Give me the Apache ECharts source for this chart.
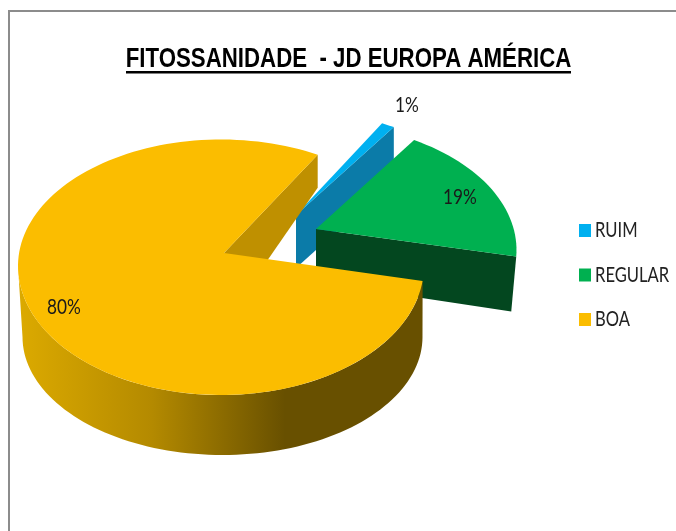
<!DOCTYPE html>
<html><head><meta charset="utf-8">
<style>html,body{margin:0;padding:0;background:#fff}#c{width:676px;height:531px}</style>
<script src="https://cdn.jsdelivr.net/npm/echarts@6/dist/echarts.min.js"></script>
</head><body><div id="c"></div>
<script>
const titleText = 'FITOSSANIDADE  - JD EUROPA AMÉRICA';
const categories = ['RUIM', 'REGULAR', 'BOA'];
const values = [1, 19, 80];
const labels = ['1%', '19%', '80%'];
const topColors = ['#00b0f0', '#00b050', '#fbbd00'];

// Projection of each exploded slice onto the tilted page
const views = [
  {ax:296,ay:215,cx:296,cy:237,rx:200,ry:126,ryFar:126,start:295.5,scale:1.05,liftFar:53,liftNear:53,dropX:0,lx:407,ly:105,face:'#0b7ba8'},
  {ax:316,ay:229,cx:316,cy:250,rx:200.5,ry:126,ryFar:126,start:299.3,scale:0.93,liftFar:55,liftNear:53,dropX:5,lx:460,ly:197,face:'#03471f'},
  {ax:224,ay:253,cx:221,cy:266,rx:203,ry:129,ryFar:126.5,start:6.7,scale:1.013,liftFar:33,liftNear:70,dropX:0,lx:64,ly:307,face:'#bf9000'}
];
const rad = d => d * Math.PI / 180;
function arc(v, a, b) {
  const pts = [], n = Math.max(2, Math.ceil(Math.abs(b - a) / 2));
  for (let i = 0; i <= n; i++) {
    const t = rad(a + (b - a) * i / n), sn = Math.sin(t);
    pts.push([v.cx + v.rx * Math.cos(t), v.cy + (sn < 0 ? v.ryFar : v.ry) * sn]);
  }
  return pts;
}
const floorView = {cx:222.5, cy:337, rx:200, ry:118, ryFar:118};
function render(idx) {
  return function (params, api) {
    const v = views[idx];
    const sweep = api.value(0) / 100 * 360 * v.scale;
    const s = v.start, e = s + sweep;
    const children = [];
    if (idx === 2) {
      const wall = arc(v, s, 180).concat(arc(floorView, 180, 0));
      children.push({type:'polygon', shape:{points:wall}, style:{
        fill:new echarts.graphic.LinearGradient(0,0,1,0,[
          {offset:0,color:'#dcaa00'},{offset:0.33,color:'#b48a00'},{offset:0.66,color:'#685000'},{offset:1,color:'#685000'}])}});
    }
    const p = arc(v, e, e)[0];
    children.push({type:'polygon', shape:{points:[[v.ax,v.ay],p,[p[0]-v.dropX,p[1]+v.liftFar],[v.ax,v.ay+v.liftNear]]}, style:{fill:v.face}});
    const top = [[v.ax, v.ay]].concat(arc(v, s, e));
    children.push({type:'polygon', shape:{points:top}, style:{fill:topColors[idx]}});
    children.push({type:'text', z2:20, x:v.lx, y:v.ly, scaleX:0.82, style:{text:labels[idx], x:0, y:0, align:'center', verticalAlign:'middle',
      font:'21px Lato', fill:'#1a1a1a'}});
    return {type:'group', children};
  };
}
const chart = echarts.init(document.getElementById('c'), null, {renderer:'canvas'});
chart.setOption({
  animation:false,
  backgroundColor:'#fff',
  legend:{orient:'vertical', left:574, top:219, itemWidth:12, itemHeight:13, itemGap:31.5, icon:'rect',
    data:categories, formatter:()=>' ', textStyle:{fontSize:10, height:13, lineHeight:13}},
  graphic:[
    {type:'rect', silent:true, shape:{x:8,y:10,width:2,height:521}, style:{fill:'#8c8c8c'}},
    {type:'rect', silent:true, shape:{x:8,y:10,width:668,height:2}, style:{fill:'#8c8c8c'}},
    {type:'text', silent:true, x:348.5, y:59, scaleX:0.795, style:{text:titleText, x:0, y:0, align:'center', verticalAlign:'middle',
      font:'bold 28px "Liberation Sans"', fill:'#000'}},
    {type:'rect', silent:true, shape:{x:126,y:71,width:445,height:2.5}, style:{fill:'#000'}}
  ].concat(categories.map((name,i)=>({
    type:'text', silent:true, x:595, y:230.5+44.5*i, scaleX:0.79,
    style:{text:name, x:0, y:0, align:'left', verticalAlign:'middle', font:'21px Lato', fill:'#222'}
  }))),
  series:categories.map((name,i)=>({
    type:'custom', name, coordinateSystem:'none', silent:true,
    itemStyle:{color:topColors[i]}, data:[[values[i]]], renderItem:render(i)
  }))
});
</script></body></html>
